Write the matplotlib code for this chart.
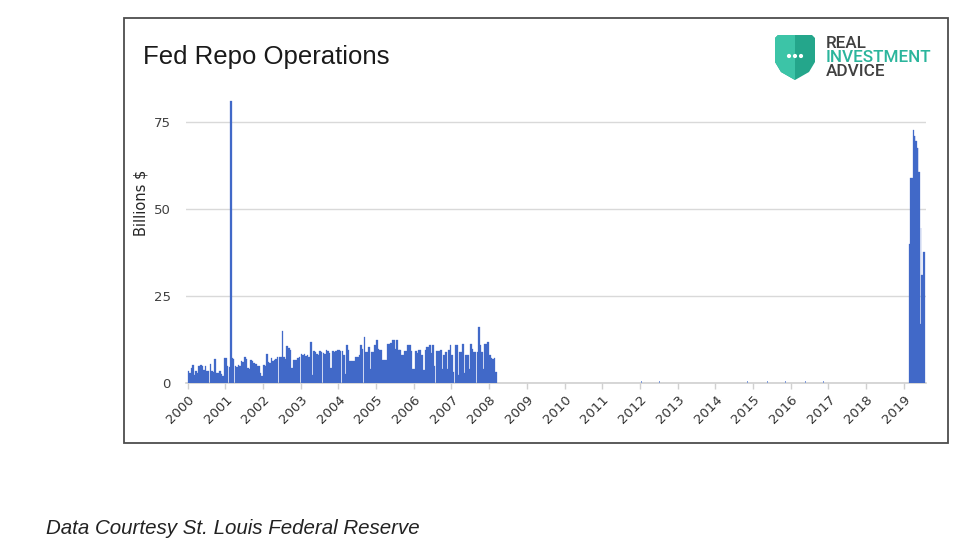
import numpy as np
import pandas as pd
import matplotlib
matplotlib.use('Agg')
import matplotlib.pyplot as plt
from matplotlib.patches import Rectangle, Polygon, Ellipse

# semi-monthly repo volumes, billions $
repo_2000 = [3.5, 2.9, 4.3, 5.1, 2.4, 3.4, 3.0, 4.8, 5.1, 5.0, 3.8, 4.8,
             3.4, 3.4, 5.5, 3.4, 3.2, 6.9, 3.0, 3.0, 3.4, 2.5, 1.9, 7.2]
repo_2001 = [7.2, 4.8, 4.5, 81.0, 7.2, 6.8, 4.8, 4.6, 5.3, 5.0, 6.2, 6.0,
             7.6, 7.0, 4.3, 4.1, 6.7, 6.3, 5.8, 5.5, 4.8, 4.9, 3.0, 1.9]
repo_2002 = [5.3, 5.0, 8.3, 6.0, 5.7, 7.2, 6.4, 6.5, 7.0, 7.4, 7.6, 7.4,
             14.8, 7.4, 7.0, 10.5, 10.0, 9.5, 4.3, 6.5, 6.7, 6.7, 7.2, 7.5]
repo_2003 = [8.4, 8.0, 8.2, 7.8, 8.0, 7.6, 11.8, 2.4, 9.1, 8.8, 8.2, 8.0,
             9.1, 9.0, 8.6, 8.4, 9.6, 9.3, 8.6, 4.3, 9.1, 8.8, 9.1, 9.4]
repo_2004 = [9.6, 9.1, 9.1, 8.0, 2.7, 10.8, 9.5, 6.2, 6.2, 6.4, 6.2, 7.5,
             7.5, 8.0, 11.0, 9.9, 13.2, 8.9, 8.9, 10.3, 4.1, 9.0, 9.0, 11.0]
repo_2005 = [12.3, 9.9, 9.4, 9.4, 6.5, 6.5, 6.5, 11.3, 11.3, 11.6, 12.3, 12.3,
             9.9, 12.3, 9.4, 9.4, 8.0, 8.0, 9.1, 9.1, 10.8, 10.8, 9.1, 4.0]
repo_2006 = [4.0, 9.1, 8.6, 9.4, 9.4, 8.0, 3.8, 9.5, 10.3, 10.3, 11.0, 8.5,
             11.0, 5.0, 9.1, 9.1, 9.1, 9.4, 4.0, 8.0, 9.0, 4.1, 9.4, 10.8]
repo_2007 = [8.0, 3.2, 10.8, 10.8, 2.2, 8.9, 9.0, 11.3, 3.0, 8.0, 8.0, 4.1,
             11.3, 9.9, 9.0, 8.9, 9.0, 16.1, 10.8, 9.0, 4.1, 11.3, 11.3, 11.8]
repo_2008 = [8.0, 7.2, 7.0, 7.2, 3.2]

# small test operations 2012-2016
test_dates = ['2012-01-19', '2012-07-08', '2012-12-16', '2014-11-10',
              '2015-05-22', '2015-11-10', '2016-05-27', '2016-11-10']
test_values = [0.5, 0.5, 0.5, 0.5, 0.5, 0.5, 0.5, 0.5]

# weekly 2019 operations
repo_2019_start = '2019-02-20'
repo_2019 = [40, 40, 59, 59, 59, 59, 72.7, 71, 71, 69.6, 69.6,
             67.5, 67.5, 60.7, 60.7, 17, 44.5, 31, 31, 31, 37.7, 37.7]

year_labels = [str(y) for y in range(2000, 2020)]
y_ticks = [0, 25, 50, 75]

BLUE = '#4169c8'
TEAL = '#2bb59c'

early = repo_2000 + repo_2001 + repo_2002 + repo_2003 + repo_2004 + \
    repo_2005 + repo_2006 + repo_2007 + repo_2008
early_dates = pd.date_range('2000-01-01', periods=len(early), freq='SMS')
late_dates = pd.date_range(repo_2019_start, periods=len(repo_2019), freq='7D')

fig = plt.figure(figsize=(9.79, 5.59), dpi=100)
fig.patch.set_facecolor('white')

# chart frame
fig.patches.append(Rectangle((124 / 979, 1 - 443 / 559), 824 / 979, 425 / 559,
                             transform=fig.transFigure, fill=False,
                             edgecolor='#4d4d4d', linewidth=1.3))

ax = fig.add_axes([186 / 979, 176 / 559, 740 / 979, 85 * 3.48 / 559])
ax.bar(early_dates, early, width=15.3, align='edge', color=BLUE,
       edgecolor=BLUE, linewidth=0.2, zorder=3)
ax.bar(pd.to_datetime(test_dates), test_values, width=8, align='center',
       color='#7f9bdc', linewidth=0, zorder=3)
ax.bar(late_dates, repo_2019, width=7, align='edge', color=BLUE,
       edgecolor=BLUE, linewidth=0.2, zorder=3)

ax.set_xlim(pd.Timestamp('1999-12-17'), pd.Timestamp('2019-08-04'))
ax.set_ylim(0, 85)
ax.set_yticks(y_ticks)
ax.yaxis.grid(True, color='#d9d9d9', linewidth=1)
ax.set_axisbelow(True)
for s in ['top', 'right', 'left']:
    ax.spines[s].set_visible(False)
ax.spines['bottom'].set_color('#d0d0d0')
ax.spines['bottom'].set_linewidth(1.2)
ax.tick_params(axis='y', length=0, pad=11, labelsize=9.5, labelcolor='#404040')
ax.tick_params(axis='x', length=4, color='#d0d0d0', width=1, pad=3,
               labelsize=9.5, labelcolor='#333333')
ax.set_xticks(pd.to_datetime([y + '-01-01' for y in year_labels]))
ax.set_xticklabels(year_labels, rotation=45, ha='right', va='top',
                   rotation_mode='anchor')
ax.set_ylabel('Billions $', fontsize=10.5, color='#262626')
ax.yaxis.set_label_coords(-0.050, 0.61)

fig.text(143 / 979, 1 - 57 / 559, 'Fed Repo Operations', fontsize=18.5,
         family='Liberation Sans', color='#1a1a1a', va='center', ha='left')

# logo
sx, sy, sw, sh = 775, 35, 40, 45
shield = [(sx, sy + 3), (sx + 3, sy), (sx + sw - 3, sy), (sx + sw, sy + 3),
          (sx + sw, sy + 27), (sx + sw - 6, sy + 37), (sx + sw / 2, sy + sh),
          (sx + 6, sy + 37), (sx, sy + 27)]
fig.patches.append(Polygon([(x / 979, 1 - y / 559) for x, y in shield],
                           closed=True, transform=fig.transFigure,
                           facecolor='#24a68b', edgecolor='none'))
fig.patches.append(Polygon([(x / 979, 1 - y / 559) for x, y in
                            [(sx, sy + 3), (sx + 3, sy), (sx + sw / 2, sy),
                             (sx + sw / 2, sy + sh), (sx + 6, sy + 37),
                             (sx, sy + 27)]],
                           closed=True, transform=fig.transFigure,
                           facecolor='#3cc4a7', edgecolor='none'))
for dx in (-6, 0, 6):
    fig.patches.append(Ellipse(((sx + sw / 2 + dx) / 979, 1 - (sy + 21) / 559),
                               4.2 / 979, 4.2 / 559, transform=fig.transFigure,
                               facecolor='white', edgecolor='none'))
logo_font = dict(fontsize=12.3, family='Roboto', fontweight='medium',
                 va='center', ha='left')
fig.text(826 / 979, 1 - 44 / 559, 'REAL', color='#404040', **logo_font)
fig.text(826 / 979, 1 - 57.5 / 559, 'INVESTMENT', color=TEAL, **logo_font)
fig.text(826 / 979, 1 - 71 / 559, 'ADVICE', color='#404040', **logo_font)

fig.text(46 / 979, 1 - 528 / 559, 'Data Courtesy St. Louis Federal Reserve',
         fontsize=14.8, style='italic', family='Liberation Sans',
         color='#222222', va='center', ha='left')

fig.savefig('out.png', dpi=100)
